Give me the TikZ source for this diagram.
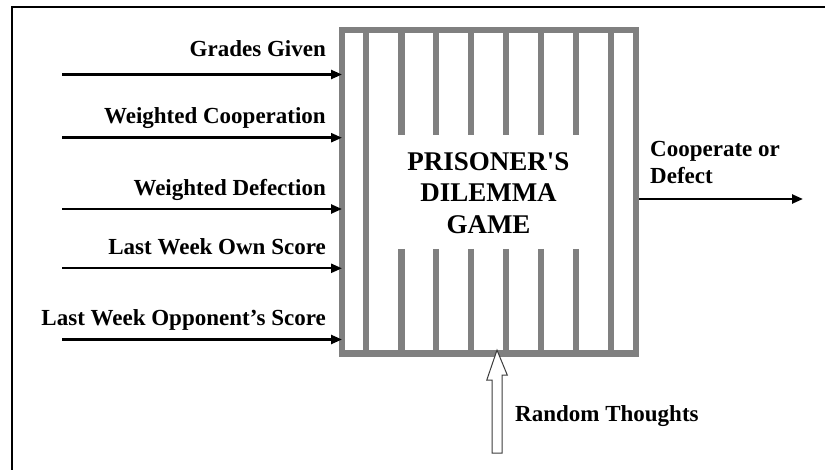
\documentclass[tikz,border=0pt]{standalone}
\usepackage{fontspec}
\setmainfont{Liberation Serif}
\usetikzlibrary{arrows.meta}
\definecolor{boxgray}{RGB}{128,128,128}
\definecolor{outlinegray}{RGB}{60,60,60}
\begin{document}
\begin{tikzpicture}[x=1pt,y=-1pt,
  lab/.style={font=\bfseries\fontsize{23}{27}\selectfont, inner sep=0pt},
  inarrow/.style={line width=2.4pt, -{Triangle[length=11pt,width=9pt]}},
  bar/.style={draw=boxgray, line width=6.5pt}]
\useasboundingbox (0,0) rectangle (825,470);
\begin{scope}
\clip (0,0) rectangle (825,470);
\fill[white] (0,0) rectangle (825,470);
\draw[line width=2pt] (12,7.5) rectangle (840,490);
\end{scope}
% main box
\node[draw=boxgray, line width=6.5pt, minimum width=294pt, minimum height=323.3pt,
      outer sep=0pt, inner sep=0pt] (game) at (489,191.7) {};
\foreach \x in {366,611} \draw[bar] (\x,30) -- (\x,353.3);
\foreach \x in {401.5,436,471,506,541,576} {
  \draw[bar] (\x,30) -- (\x,135);
  \draw[bar] (\x,249) -- (\x,353.3);
}
\node[font=\bfseries\fontsize{27}{31.7}\selectfont, align=center, inner sep=0pt, anchor=base]
  (title) at (488.5,233.5) {PRISONER\textquotesingle S\\DILEMMA\\GAME};
% inputs
\coordinate (i1) at (62,74.5);
\coordinate (i2) at (62,137.7);
\coordinate (i3) at (62,209);
\coordinate (i4) at (62,268.3);
\coordinate (i5) at (62,339.5);
\foreach \i in {1,...,5} \draw[inarrow] (i\i) -- (i\i -| game.west);
\node[lab, anchor=base east] (l1) at (326,57) {Grades Given};
\node[lab, anchor=base east] (l2) at (326,124) {Weighted Cooperation};
\node[lab, anchor=base east] (l3) at (326,196) {Weighted Defection};
\node[lab, anchor=base east] (l4) at (326,255) {Last Week Own Score};
\node[lab, anchor=base east] (l5) at (326,326) {Last Week Opponent's Score};
% output
\coordinate (o) at (803,199);
\draw[inarrow] ([xshift=3.25pt]game.east |- o) -- (o);
\node[lab, anchor=base west, align=left] (out) at (650,184) {Cooperate or\\Defect};
% random thoughts
\coordinate (rt) at (497,453);
\draw[draw=outlinegray, line width=1pt, fill=white]
  ([yshift=3.25pt]game.south -| rt) -- ++(10.3,25) -- ++(-5.3,0) -- (502,453) -- (492,453)
  -- (492,380.25) -- ++(-5.3,0) -- cycle;
\node[lab, anchor=base west] (rtl) at (515,421.7) {Random Thoughts};
\end{tikzpicture}
\end{document}
